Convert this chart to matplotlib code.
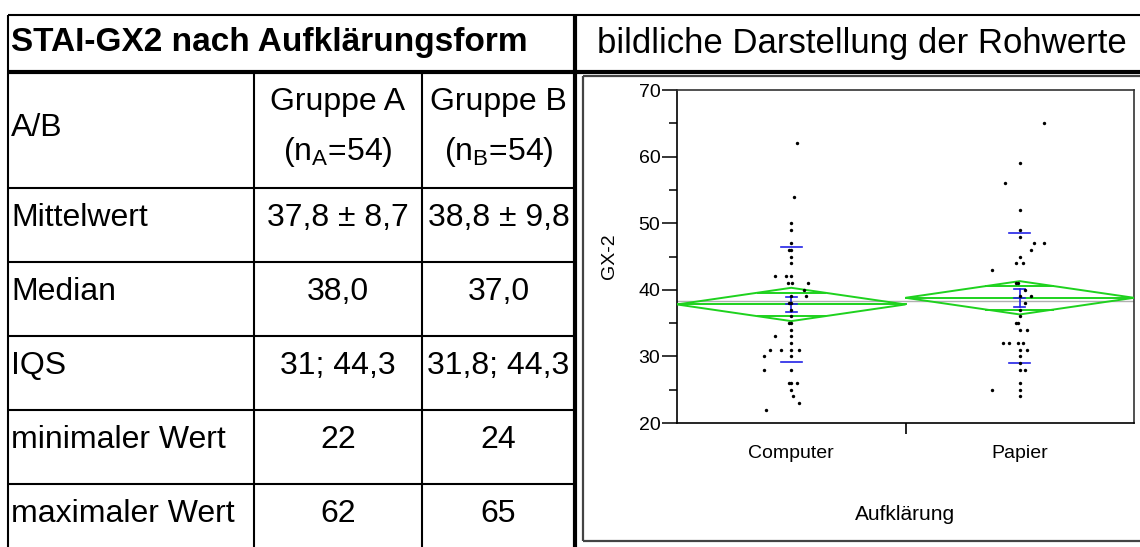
import numpy as np
import matplotlib.pyplot as plt
from matplotlib.patches import Polygon

plt.rcParams['font.family'] = ['Liberation Sans', 'DejaVu Sans']

# Tabelle links
titel = "STAI-GX2 nach Aufklärungsform"
titel_rechts = "bildliche Darstellung der Rohwerte"
kopf_a = ["Gruppe A", r"(n$_\mathregular{A}$=54)"]
kopf_b = ["Gruppe B", r"(n$_\mathregular{B}$=54)"]
zeilen = ["Mittelwert", "Median", "IQS", "minimaler Wert", "maximaler Wert"]
gruppe_a = ["37,8 ± 8,7", "38,0", "31; 44,3", "22", "62"]
gruppe_b = ["38,8 ± 9,8", "37,0", "31,8; 44,3", "24", "65"]

# Rohwerte GX-2 je Aufklärungsform, dazu die seitliche Streuung der Punkte
gruppen = ["Computer", "Papier"]
werte_computer = [62, 54, 50, 49, 47, 46, 46, 45, 44, 42, 42, 42, 41, 41, 41,
                  40, 39, 39, 38, 38, 37, 36, 35, 35, 34, 33, 33, 32, 31, 31,
                  31, 31, 30, 30, 28, 28, 26, 26, 26, 25, 24, 23, 22]
jitter_computer = [0.026, 0.013, 0, 0, 0, -0.012, 0.0, 0, 0, -0.073, -0.025, 0,
                   -0.014, 0.003, 0.073, 0.056, 0.066, 0, -0.012, 0.0, 0, 0,
                   -0.012, 0, 0, 0, -0.071, 0, 0, -0.095, -0.047, 0.032, -0.12,
                   0, -0.12, 0, -0.012, 0, 0.025, 0, 0.009, 0.032, -0.11]
werte_papier = [65, 59, 56, 52, 49, 48, 47, 47, 46, 45, 44, 44, 43, 41, 41, 40,
                39, 39, 38, 37, 36, 35, 35, 34, 34, 32, 32, 32, 32, 31, 31, 30,
                29, 28, 28, 26, 25, 25, 24]
jitter_papier = [0.104, 0, -0.064, 0, 0, 0, 0.064, 0.104, 0.048, 0, -0.016,
                 0.016, -0.121, -0.016, -0.006, 0.023, 0, 0.048, 0.023, 0, 0,
                 -0.016, -0.006, 0, 0.032, -0.073, -0.048, -0.009, 0.016, 0,
                 0.032, 0, 0, 0, 0.023, 0, -0.121, 0, 0]

mittel = [37.8, 38.8]
sd = [8.7, 9.8]
n = [54, 54]
t_975 = 1.983  # t-Quantil fuer df = 106

W, H = 1140, 547
fig = plt.figure(figsize=(W / 100, H / 100), dpi=100)

# Ebene in Pixelkoordinaten fuer Tabelle und Rahmen
tab = fig.add_axes([0, 0, 1, 1])
tab.set_xlim(0, W)
tab.set_ylim(H, 0)
tab.axis('off')

def linie(x, y, lw=1.5, c='black'):
    tab.plot(x, y, color=c, lw=lw, solid_capstyle='butt')

x_links, x_a, x_b, x_mitte = 8, 254, 422, 575
zeilen_y = [188, 262, 336, 410, 484]

linie([x_links, W], [15, 15])
linie([x_links, W], [71.5, 71.5], lw=3)
linie([x_links, x_links], [15, H])
linie([x_mitte, x_mitte], [15, H], lw=3)
linie([x_a, x_a], [71.5, H])
linie([x_b, x_b], [71.5, H])
for y in zeilen_y:
    linie([x_links, x_mitte], [y, y])

fs = 23
tab.text(11, 43, titel, fontsize=24, fontweight='bold', va='center')
tab.text(862, 43, titel_rechts, fontsize=25, ha='center', va='center')

mitte_a = (x_a + x_b) / 2
mitte_b = (x_b + x_mitte) / 2
tab.text(11, 128, "A/B", fontsize=fs, va='center')
tab.text(mitte_a, 102, kopf_a[0], fontsize=fs, ha='center', va='center')
tab.text(mitte_a, 152, kopf_a[1], fontsize=fs, ha='center', va='center')
tab.text(mitte_b, 102, kopf_b[0], fontsize=fs, ha='center', va='center')
tab.text(mitte_b, 152, kopf_b[1], fontsize=fs, ha='center', va='center')
for i, name in enumerate(zeilen):
    y = zeilen_y[i] + 30
    tab.text(11, y, name, fontsize=fs, va='center')
    tab.text(mitte_a, y, gruppe_a[i], fontsize=fs, ha='center', va='center')
    tab.text(mitte_b, y, gruppe_b[i], fontsize=fs, ha='center', va='center')

# Rahmen um die Grafik
linie([583, 583], [76, 541], lw=1.6, c='#444444')
linie([583, W], [76, 76], lw=1.6, c='#444444')
linie([583, W], [541, 541], lw=1.6, c='#444444')

# Streudiagramm mit Mittelwert-Rauten
ax = fig.add_axes([677 / W, (H - 423) / H, (1134 - 677) / W, (423 - 90) / H])
ax.set_xlim(0.5, 2.5)
ax.set_ylim(20, 70)

gruen = '#1ed21e'
blau = '#2323e6'
gesamt = np.mean(mittel)
ax.axhline(gesamt, color='#b0b0b0', lw=1.0, zorder=1)

sp = np.sqrt(((n[0] - 1) * sd[0] ** 2 + (n[1] - 1) * sd[1] ** 2) / (sum(n) - 2))
for i in range(2):
    xc = i + 1
    m = mittel[i]
    ci = t_975 * sp / np.sqrt(n[i])
    raute = Polygon([(xc - 0.5, m), (xc, m + ci), (xc + 0.5, m), (xc, m - ci)],
                    closed=True, fill=False, ec=gruen, lw=1.4, zorder=3)
    ax.add_patch(raute)
    ax.plot([xc - 0.5, xc + 0.5], [m, m], color=gruen, lw=1.4, zorder=3)
    h = 0.5 * (1 - 1 / np.sqrt(2))
    for s in (1, -1):
        ax.plot([xc - h, xc + h], [m + s * ci / np.sqrt(2)] * 2, color=gruen,
                lw=1.4, zorder=3)
    # Standardabweichung und Standardfehler
    for s in (1, -1):
        ax.plot([xc - 0.047, xc + 0.047], [m + s * sd[i]] * 2, color=blau,
                lw=1.2, zorder=4)
    se = sd[i] / np.sqrt(n[i])
    ax.plot([xc, xc], [m - se, m + se], color=blau, lw=1.2, zorder=4)
    for y in (m - se, m, m + se):
        ax.plot([xc - 0.023, xc + 0.023], [y, y], color=blau, lw=1.2, zorder=4)

for i, (werte, jit) in enumerate([(werte_computer, jitter_computer),
                                  (werte_papier, jitter_papier)]):
    ax.scatter(np.array(jit) + i + 1, werte, s=6, marker='o', color='black',
               lw=0, zorder=5)

ax.set_xticks([1, 2], gruppen)
ax.set_xticks([1.5], minor=True)
ax.tick_params(axis='x', which='major', length=0, pad=16, labelsize=14)
ax.tick_params(axis='x', which='minor', length=8, width=1.2, direction='out')
ax.set_yticks(range(20, 71, 10))
ax.set_yticks(range(25, 70, 10), minor=True)
ax.tick_params(axis='y', which='major', length=11, width=1.1, labelsize=14, pad=1)
ax.tick_params(axis='y', which='minor', length=5.5, width=1.1)
ax.set_ylabel("GX-2", fontsize=14)
ax.yaxis.set_label_coords(-0.13, 0.5)
ax.set_xlabel("Aufklärung", fontsize=15)
ax.xaxis.set_label_coords(0.5, -0.245)
for sp_name in ax.spines:
    ax.spines[sp_name].set_linewidth(1.2)
ax.spines['top'].set_color('#333333')
ax.spines['right'].set_color('#333333')

fig.savefig("out.png", dpi=100)
